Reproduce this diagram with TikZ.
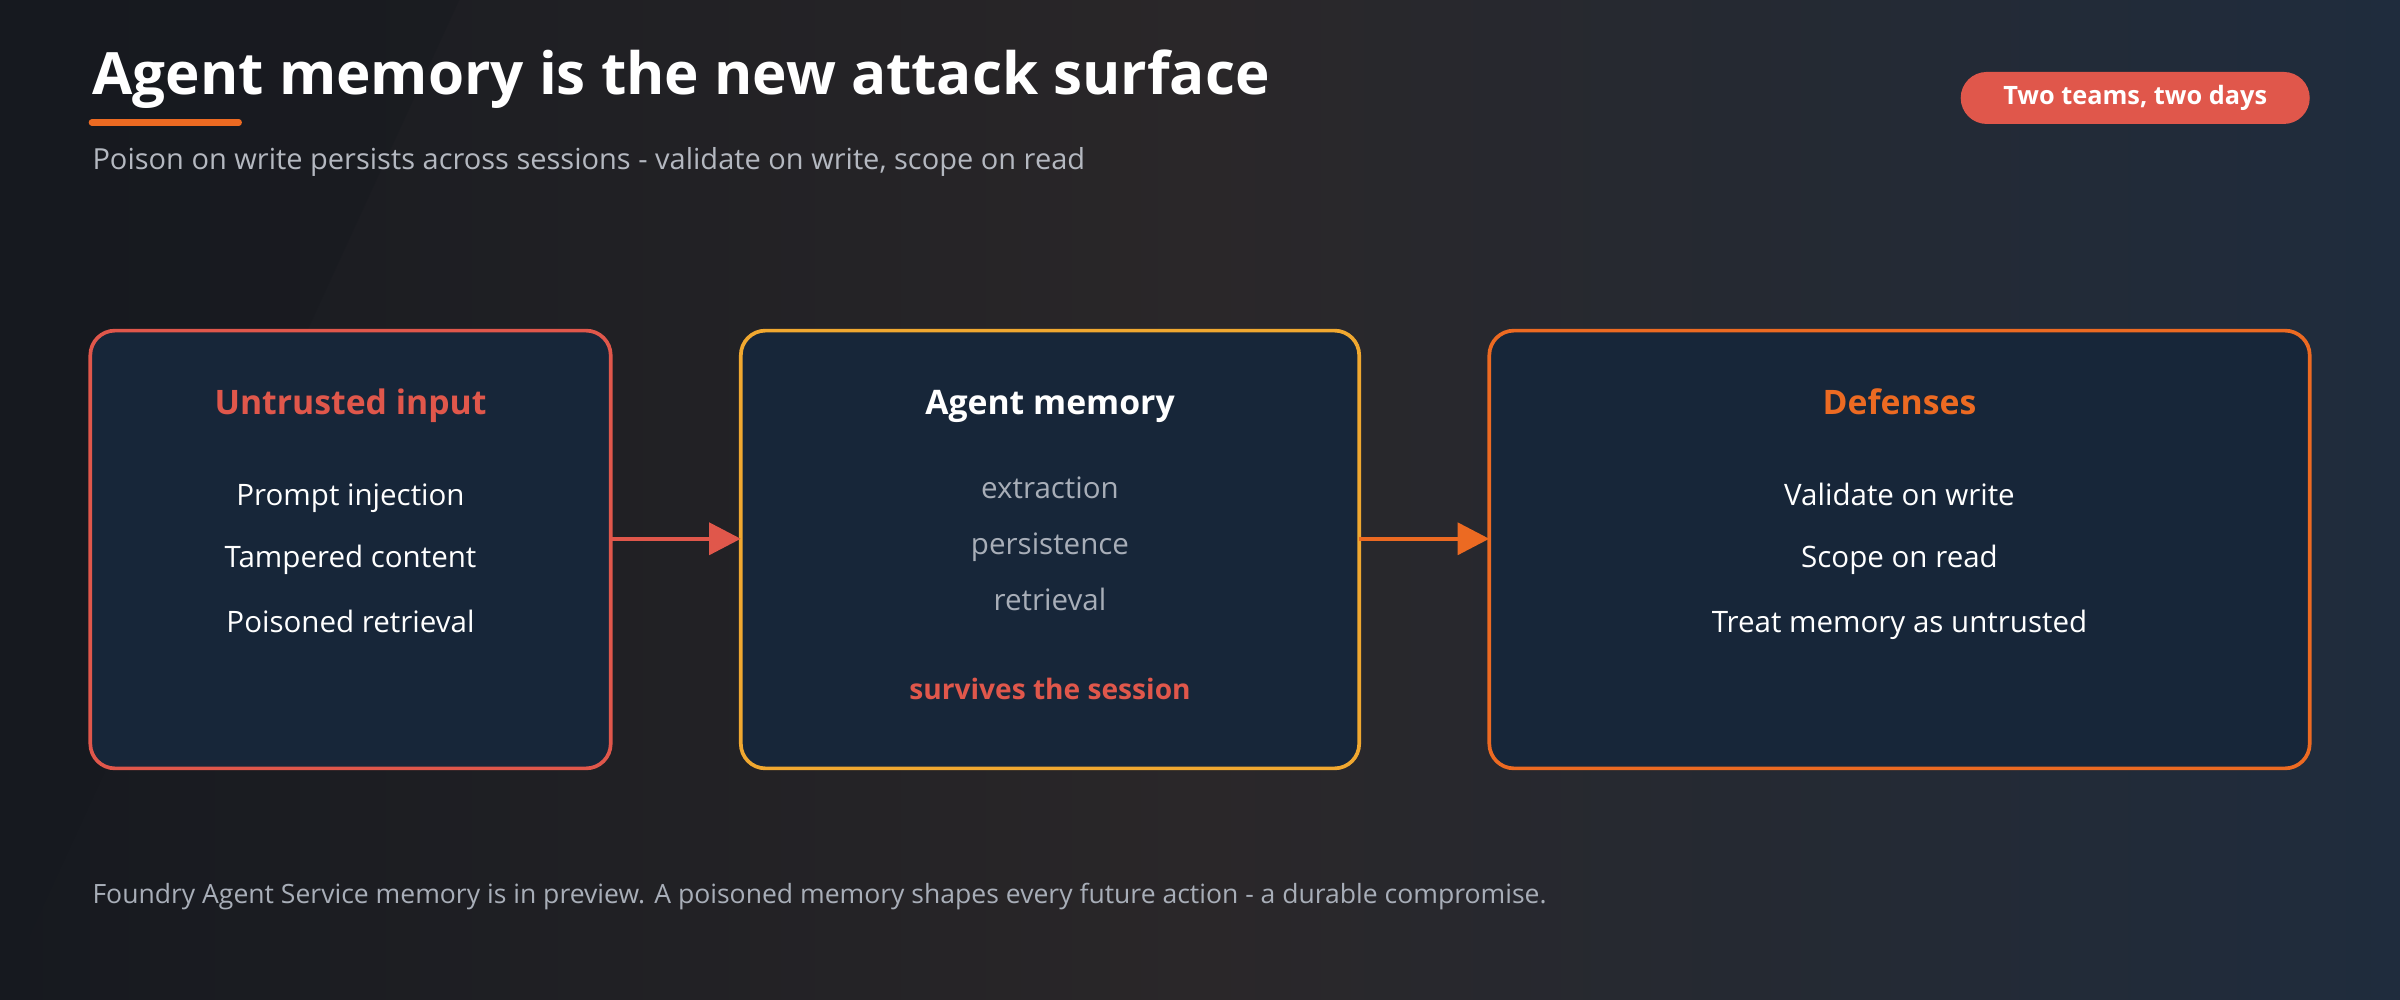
\documentclass[tikz,border=0pt]{standalone}
\usepackage{fontspec}
\setmainfont{Open Sans}
\usetikzlibrary{arrows.meta}
\definecolor{bgA}{HTML}{16191F}
\definecolor{bgB}{HTML}{2A2729}
\definecolor{bgC}{HTML}{1F2C3D}
\definecolor{boxfill}{HTML}{172639}
\definecolor{cred}{HTML}{E0574B}
\definecolor{cgold}{HTML}{F0A830}
\definecolor{corange}{HTML}{EC6A22}
\definecolor{cgray}{HTML}{B4B8C0}
\definecolor{cmute}{HTML}{A8AEB8}
\begin{document}
\begin{tikzpicture}[x=0.015306cm,y=-0.015306cm,
  box/.style={line width=1.05pt, rounded corners=7pt, fill=boxfill},
  head/.style={font=\fontsize{9.6}{12}\selectfont\bfseries, anchor=base},
  item/.style={font=\fontsize{8.4}{10}\selectfont, text=white, anchor=base},
  gitem/.style={font=\fontsize{8.4}{10}\selectfont, text=cmute, anchor=base},
  conn/.style={line width=1.3pt, -{Triangle[length=9pt,width=9pt]}}]
\shade[left color=bgA, right color=bgC, middle color=bgB] (0,0) rectangle (1568,653);
\fill[bgA, opacity=0.35] (0,653) -- (0,0) -- (300,0) -- (0,653);
\useasboundingbox (0,0) rectangle (1568,653);
\node[anchor=base west, inner sep=0, text=white, font=\fontsize{16.6}{20}\selectfont\bfseries] (title) at (60,62) {Agent memory is the new attack surface};
\draw[corange, line width=1.8pt, line cap=round] (60,80) -- (156,80);
\node[anchor=base west, inner sep=0, text=cgray, font=\fontsize{8.25}{10}\selectfont] (sub) at (60,111) {Poison on write persists across sessions - validate on write, scope on read};
\node[fill=cred, rounded corners=7.4pt, minimum width=99.3pt, minimum height=14.8pt, inner sep=0, text=white, font=\fontsize{7.2}{8}\selectfont\bfseries] (pill) at (1395,64) {Two teams, two days};
\draw[box, draw=cred] (59,216) rectangle (399,502);
\node[head, text=cred] at (229,271) {Untrusted input};
\node[item] at (229,330) {Prompt injection};
\node[item] at (229,371) {Tampered content};
\node[item] at (229,413) {Poisoned retrieval};
\draw[box, draw=cgold] (484,216) rectangle (888,502);
\node[head, text=white] at (686,271) {Agent memory};
\node[gitem] at (686,326) {extraction};
\node[gitem] at (686,362) {persistence};
\node[gitem] at (686,399) {retrieval};
\node[font=\fontsize{8}{10}\selectfont\bfseries, text=cred, anchor=base] at (686,457) {survives the session};
\draw[box, draw=corange] (973,216) rectangle (1509,502);
\node[head, text=corange] at (1241,271) {Defenses};
\node[item] at (1241,330) {Validate on write};
\node[item] at (1241,371) {Scope on read};
\node[item] at (1241,413) {Treat memory as untrusted};
\coordinate (a1) at (399,352); \coordinate (a2) at (484,352);
\coordinate (a3) at (888,352); \coordinate (a4) at (973,352);
\draw[conn, cred] (a1) -- (a2);
\draw[conn, corange] (a3) -- (a4);
\node[anchor=base west, inner sep=0, text=cmute, font=\fontsize{7.55}{9}\selectfont] (foot) at (60,590) {Foundry Agent Service memory is in preview. A poisoned memory shapes every future action - a durable compromise.};
\end{tikzpicture}
\end{document}
